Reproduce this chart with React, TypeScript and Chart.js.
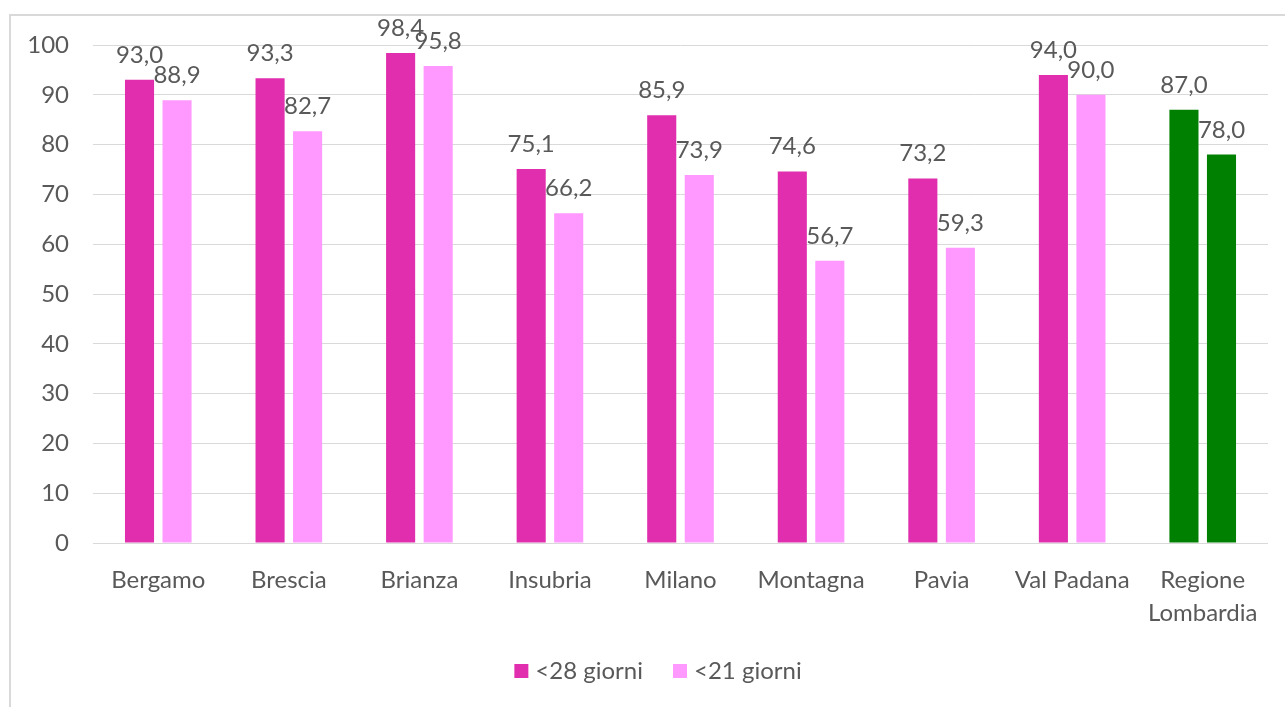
import React, { useEffect, useRef } from "react";
import { Chart, registerables } from "chart.js";

Chart.register(...registerables);

const categories: (string | string[])[] = [
  "Bergamo",
  "Brescia",
  "Brianza",
  "Insubria",
  "Milano",
  "Montagna",
  "Pavia",
  "Val Padana",
  ["Regione", "Lombardia"],
];
const series28 = [93.0, 93.3, 98.4, 75.1, 85.9, 74.6, 73.2, 94.0, 87.0];
const series21 = [88.9, 82.7, 95.8, 66.2, 73.9, 56.7, 59.3, 90.0, 78.0];
const seriesNames = ["<28 giorni", "<21 giorni"];
const yTicks = [0, 10, 20, 30, 40, 50, 60, 70, 80, 90, 100];

const C28 = "#E02EAE";
const C21 = "#FF99FF";
const GREEN = "#008000";
const TEXT = "#595959";
const FONT = "Lato";

export default function App() {
  const ref = useRef<HTMLCanvasElement | null>(null);
  useEffect(() => {
    if (!ref.current) return;
    const n = categories.length;
    const colors28 = categories.map((_, i) => (i === n - 1 ? GREEN : C28));
    const colors21 = categories.map((_, i) => (i === n - 1 ? GREEN : C21));

    const borderPlugin = {
      id: "frame",
      beforeDraw(chart: any) {
        const ctx = chart.ctx;
        ctx.save();
        ctx.fillStyle = "#D9D9D9";
        ctx.fillRect(9, 14, 2, chart.height);
        ctx.fillRect(9, 14, chart.width, 2);
        ctx.restore();
      },
    };

    const labelPlugin = {
      id: "valueLabels",
      afterDatasetsDraw(chart: any) {
        const ctx = chart.ctx;
        ctx.save();
        ctx.font = `24px ${FONT}`;
        ctx.fillStyle = TEXT;
        ctx.textAlign = "center";
        ctx.textBaseline = "alphabetic";
        chart.data.datasets.forEach((ds: any, di: number) => {
          const meta = chart.getDatasetMeta(di);
          meta.data.forEach((el: any, i: number) => {
            const v = ds.data[i] as number;
            const txt = v.toFixed(1).replace(".", ",");
            ctx.fillText(txt, el.x, el.y - 17);
          });
        });
        ctx.restore();
      },
    };

    const legendPlugin = {
      id: "customLegend",
      afterDraw(chart: any) {
        const ctx = chart.ctx;
        ctx.save();
        ctx.font = `24px ${FONT}`;
        ctx.textBaseline = "middle";
        ctx.textAlign = "left";
        const box = 14;
        const gapBoxText = 7;
        const gapItems = 30;
        const names = chart.data.datasets.map((d: any) => d.label);
        const cols = [C28, C21];
        const widths = names.map((t: string) => box + gapBoxText + ctx.measureText(t).width);
        const total = widths.reduce((a: number, b: number) => a + b, 0) + gapItems * (names.length - 1);
        let x = 658 - total / 2;
        const cy = 671;
        names.forEach((t: string, i: number) => {
          ctx.fillStyle = cols[i];
          ctx.fillRect(x, cy - box / 2, box, box);
          ctx.fillStyle = TEXT;
          ctx.fillText(t, x + box + gapBoxText, cy);
          x += widths[i] + gapItems;
        });
        ctx.restore();
      },
    };

    const chart = new Chart(ref.current, {
      type: "bar",
      data: {
        labels: categories,
        datasets: [
          {
            label: seriesNames[0],
            data: series28,
            backgroundColor: colors28,
            categoryPercentage: 0.575,
            barPercentage: 0.775,
          },
          {
            label: seriesNames[1],
            data: series21,
            backgroundColor: colors21,
            categoryPercentage: 0.575,
            barPercentage: 0.775,
          },
        ],
      },
      options: {
        responsive: false,
        animation: false,
        devicePixelRatio: 1,
        layout: { padding: { left: 10, right: 17, top: 45, bottom: 44 } },
        plugins: {
          legend: { display: false },
          tooltip: { enabled: false },
        },
        scales: {
          x: {
            grid: { display: false },
            border: { display: false },
            ticks: {
              color: TEXT,
              font: { family: FONT, size: 24, lineHeight: 1.38 },
              padding: 13,
              maxRotation: 0,
              autoSkip: false,
            },
            afterFit(s: any) {
              s.height = 120;
            },
          },
          y: {
            min: 0,
            max: 100,
            afterBuildTicks(s: any) {
              s.ticks = yTicks.map((v) => ({ value: v }));
            },
            grid: { color: "#D9D9D9", drawTicks: false, lineWidth: 1 },
            border: { display: false },
            ticks: {
              color: TEXT,
              font: { family: FONT, size: 24 },
              padding: 24,
            },
            afterFit(s: any) {
              s.width = 83;
            },
          },
        },
      },
      plugins: [borderPlugin, labelPlugin, legendPlugin],
    });
    return () => chart.destroy();
  }, []);

  return (
    <div style={{ position: "absolute", left: 0, top: 0, width: 1285, height: 707, background: "#fff" }}>
      <canvas ref={ref} width={1285} height={707} style={{ display: "block" }} />
    </div>
  );
}
